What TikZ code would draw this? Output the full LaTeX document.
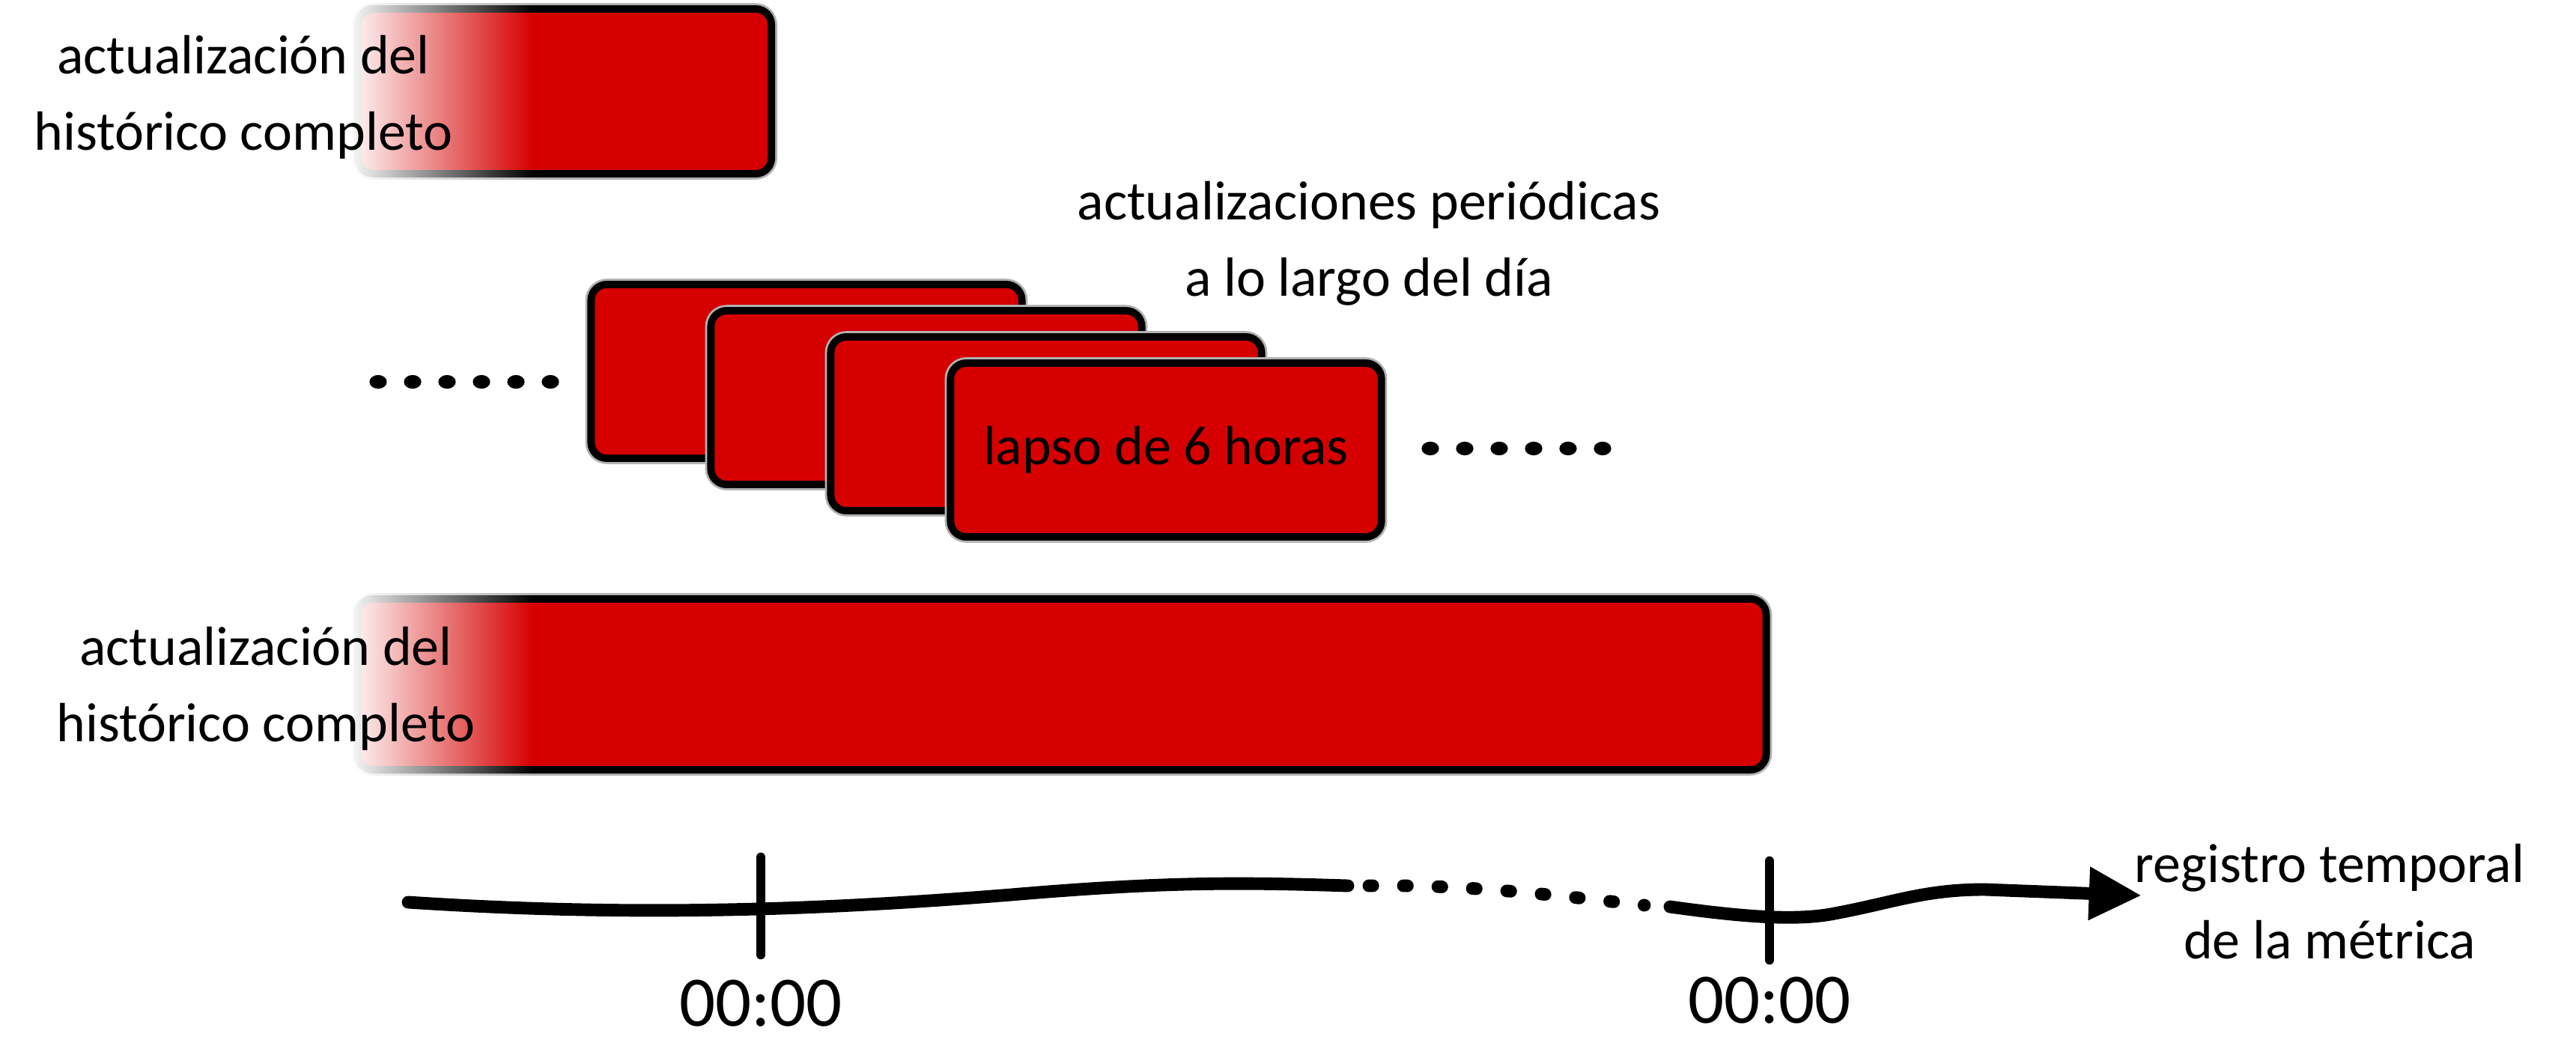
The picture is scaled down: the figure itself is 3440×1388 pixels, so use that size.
\documentclass[tikz,border=0pt]{standalone}
\usepackage{fontspec}
\setmainfont{Carlito}
\usetikzlibrary{arrows.meta,fadings}
\definecolor{barred}{HTML}{D60000}
\tikzfading[name=fadeleft, left color=transparent!0, right color=transparent!100]

\begin{document}
\begin{tikzpicture}[x=0.01cm,y=-0.01cm,
  bar/.style={rectangle,fill=barred,draw=black,line width=2.8pt,rounded corners=6pt,
    inner sep=0pt,preaction={draw=black!30,line width=4.4pt}},
  lbl/.style={font=\fontsize{21}{29}\selectfont,align=center},
  hour/.style={font=\fontsize{27}{30}\selectfont},
  axis/.style={line width=4.8pt,line cap=round},
  tick/.style={line width=3.6pt,line cap=round}
]
\useasboundingbox[fill=white] (0,0) rectangle (3440,1388);

\node[bar,minimum width=5.52cm,minimum height=2.2cm] (hist1) at (754,122) {};
\foreach \i in {0,...,3}
  \node[bar,minimum width=5.75cm,minimum height=2.32cm] (per\i) at (1077+160*\i,496+35*\i) {};
\node[lbl] (lapso) at (per3) {lapso de 6 horas};
\node[bar,minimum width=18.8cm,minimum height=2.28cm] (hist2) at (1418,914) {};

\fill[white,path fading=fadeleft] (462,-5) rectangle (712,250);
\fill[white,path fading=fadeleft] (462,780) rectangle (712,1048);

\node[lbl] (txt1) at (325,130) {actualización del\\histórico completo};
\node[lbl] (txt2) at (355,920) {actualización del\\histórico completo};
\node[lbl] (txtper) at (1828,325) {actualizaciones periódicas\\a lo largo del día};

\foreach \i in {0,...,5} {
  \fill (505+46*\i,510) ellipse (3.3pt and 2.6pt);
  \fill (1910+46*\i,599) ellipse (3.3pt and 2.6pt);
}

\coordinate (t0) at (545,1205);
\coordinate (t1) at (1800,1183);
\coordinate (t2) at (1828,1183);
\coordinate (t3) at (2196,1209);
\coordinate (t4) at (2230,1211);
\coordinate (t5) at (2860,1196);
\draw[axis] (t0) .. controls (850,1225) and (1100,1215) .. (1350,1195)
  .. controls (1550,1178) and (1650,1178) .. (t1);
\draw[axis,dash pattern=on 1.5pt off 11.6pt] (t2) .. controls (1960,1181) and (2080,1196) .. (t3);
\draw[axis,-{Triangle[length=20pt,width=19pt]}] (t4) .. controls (2330,1225) and (2400,1230) .. (2450,1220)
  .. controls (2530,1205) and (2570,1188) .. (2650,1188) -- (t5);

\coordinate (k1a) at (1016,1145);
\coordinate (k1b) at (1016,1275);
\coordinate (k2a) at (2363,1150);
\coordinate (k2b) at (2363,1282);
\draw[tick] (k1a) -- (k1b);
\draw[tick] (k2a) -- (k2b);

\node[hour] (h1) at (1016,1340) {00:00};
\node[hour] (h2) at (2363,1336) {00:00};
\node[lbl] (reg) at (3111,1204) {registro temporal\\de la métrica};
\end{tikzpicture}
\end{document}
